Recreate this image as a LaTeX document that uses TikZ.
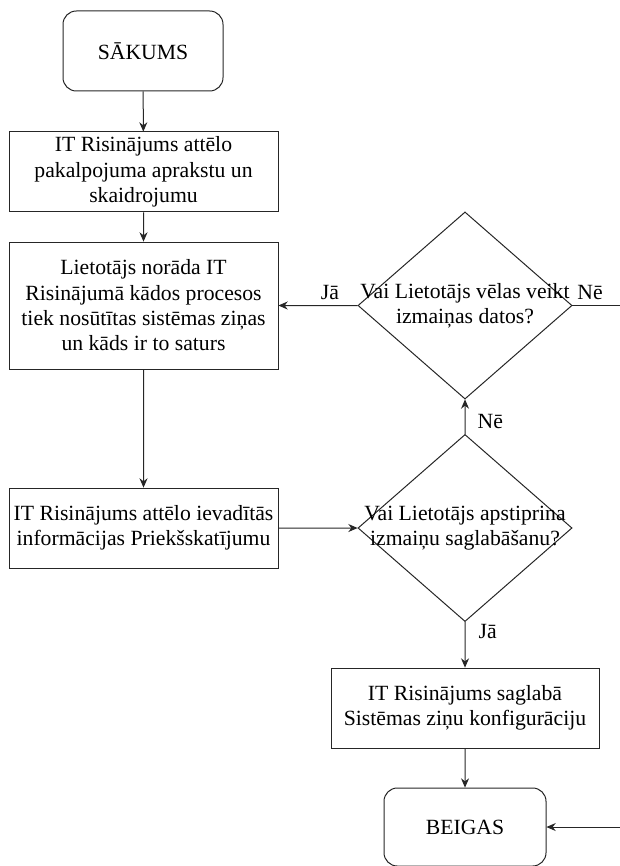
\documentclass[tikz,border=0pt]{standalone}
\usepackage{fontspec}
\setmainfont{Liberation Serif}
\usetikzlibrary{arrows.meta,positioning,shapes.geometric}
\tikzset{
  tnode/.style={rectangle,rounded corners=10pt,draw=black!85,line width=0.75pt,
    minimum width=160pt,minimum height=80pt,inner sep=0pt,align=center,
    font=\fontsize{21.7}{25.3}\selectfont},
  pnode/.style={tnode,sharp corners,minimum width=269pt},
  dnode/.style={diamond,draw=black!85,line width=0.75pt,
    minimum width=214pt,minimum height=187pt,inner sep=0pt},
  dtext/.style={align=center,font=\fontsize{21.7}{25.3}\selectfont},
  fedge/.style={-{Stealth[length=7pt,width=6pt]},line width=0.75pt,color=black!85},
  elabel/.style={font=\fontsize{21.7}{25.3}\selectfont,text=black},
}

\begin{document}
\begin{tikzpicture}[x=1pt,y=-1pt,scale=0.75, every node/.style={transform shape}]
  \useasboundingbox (0,0) rectangle (620,866);
  \node[tnode] (start) at (143,51){SĀKUMS};
  \node[pnode] (show) at (143.5,172){IT Risinājums attēlo\\pakalpojuma aprakstu un\\skaidrojumu};
  \node[pnode,minimum height=127pt] (input) at (143.5,305.5){Lietotājs norāda IT\\Risinājumā kādos procesos\\tiek nosūtītas sistēmas ziņas\\un kāds ir to saturs};
  \node[pnode] (preview) at (143.5,528){IT Risinājums attēlo ievadītās\\informācijas Priekšskatījumu};
  \node[dnode] (change) at (465,305.5){};
  \node[dtext] (changetxt) at (change){Vai Lietotājs vēlas veikt\\izmaiņas datos?};
  \node[dnode] (confirm) at (465,528){};
  \node[dtext] (confirmtxt) at (confirm){Vai Lietotājs apstiprina\\izmaiņu saglabāšanu?};
  \node[pnode,minimum width=268pt] (save) at (465,708){IT Risinājums saglabā\\Sistēmas ziņu konfigurāciju};
  \node[tnode,minimum width=162pt,minimum height=78pt] (end) at (465,827){BEIGAS};
  \coordinate (turn) at (640,305.5);

  \draw[fedge] (start)--(show);
  \draw[fedge] (show)--(input);
  \draw[fedge] (input)--(preview);
  \draw[fedge] (preview)--(confirm);
  \draw[fedge] (change)--node[elabel,above=2pt,pos=0.35]{Jā}(input);
  \draw[fedge] (change.east)--node[elabel,above=2pt,pos=0.26]{Nē}(turn) |- (end.east);
  \draw[fedge] (confirm)--node[elabel,right=9pt,pos=0.35]{Nē}(change);
  \draw[fedge] (confirm)--node[elabel,right=10pt,pos=0.2]{Jā}(save);
  \draw[fedge] (save)--(end);
\end{tikzpicture}
\end{document}
